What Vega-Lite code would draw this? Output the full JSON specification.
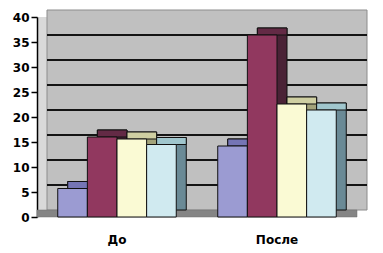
{
  "$schema": "https://vega.github.io/schema/vega-lite/v6.json",
  "width": 320,
  "height": 200,
  "autosize": {"type": "none"},
  "padding": {"left": 37, "top": 17, "right": 26, "bottom": 36},
  "background": "#ffffff",
  "config": {
    "view": {"fill": "#d9d9d9", "stroke": null},
    "axisY": {"grid": false, "domainColor": "#000000", "domainWidth": 1.5, "tickColor": "#000000", "tickWidth": 1.5, "tickSize": 6, "labelFont": "DejaVu Sans", "labelFontWeight": "bold", "labelFontSize": 12, "labelColor": "#000000", "labelPadding": 2, "title": null},
    "axisX": {"title": null, "domain": false, "ticks": false, "labelAngle": 0, "labelFont": "DejaVu Sans", "labelFontWeight": "bold", "labelFontSize": 12, "labelColor": "#000000", "labelPadding": 17}
  },
  "datasets": {
    "bars": [
      {"cat": "До", "series": "s1", "v": 5.7},
      {"cat": "До", "series": "s2", "v": 16},
      {"cat": "До", "series": "s3", "v": 15.6},
      {"cat": "До", "series": "s4", "v": 14.5},
      {"cat": "После", "series": "s1", "v": 14.2},
      {"cat": "После", "series": "s2", "v": 36.4},
      {"cat": "После", "series": "s3", "v": 22.6},
      {"cat": "После", "series": "s4", "v": 21.4}
    ],
    "wall": [{"lo": 0, "hi": 40}],
    "grid": [{"g": 5}, {"g": 10}, {"g": 15}, {"g": 20}, {"g": 25}, {"g": 30}, {"g": 35}]
  },
  "resolve": {"scale": {"color": "independent", "xOffset": "independent"}},
  "layer": [
    {
      "data": {"name": "wall"},
      "mark": {"type": "rect", "fill": "#c0c0c0", "stroke": "#8c8c8c", "strokeWidth": 1, "xOffset": 10, "x2Offset": 10, "yOffset": -7, "y2Offset": -7},
      "encoding": {
        "x": {"datum": "До", "type": "nominal", "bandPosition": 0},
        "x2": {"datum": "После", "bandPosition": 1},
        "y": {"field": "lo", "type": "quantitative", "scale": {"domain": [0, 40]}, "axis": {"values": [0, 5, 10, 15, 20, 25, 30, 35, 40]}},
        "y2": {"field": "hi"}
      }
    },
    {
      "data": {"name": "wall"},
      "mark": {"type": "rect", "fill": "#858585", "stroke": "#6e6e6e", "strokeWidth": 0.5, "x2Offset": 8, "y2Offset": -7},
      "encoding": {
        "y": {"field": "lo", "type": "quantitative", "axis": {"values": [0, 5, 10, 15, 20, 25, 30, 35, 40]}},
        "y2": {"field": "lo"}
      }
    },
    {
      "data": {"name": "grid"},
      "mark": {"type": "rule", "color": "#141414", "strokeWidth": 2, "xOffset": 10, "x2Offset": 10, "yOffset": -7},
      "encoding": {
        "x": {"datum": "До", "type": "nominal", "bandPosition": 0},
        "x2": {"datum": "После", "bandPosition": 1},
        "y": {"field": "g", "type": "quantitative", "axis": {"values": [0, 5, 10, 15, 20, 25, 30, 35, 40]}}
      }
    },
    {
      "data": {"name": "bars"},
      "mark": {"type": "bar", "stroke": "#111111", "strokeWidth": 1, "yOffset": -7, "y2Offset": -7},
      "encoding": {
        "x": {"field": "cat", "type": "nominal", "sort": null, "scale": {"domain": ["До", "После"], "paddingInner": 0, "paddingOuter": 0}},
        "xOffset": {"field": "series", "type": "nominal", "scale": {"paddingInner": 0, "paddingOuter": 0.7, "range": [10, 170]}},
        "y": {"field": "v", "type": "quantitative", "axis": {"values": [0, 5, 10, 15, 20, 25, 30, 35, 40]}},
        "y2": {"datum": 0},
        "color": {"field": "series", "type": "nominal", "legend": null, "scale": {"domain": ["s1", "s2", "s3", "s4"], "range": ["#5f5f9c", "#4a2236", "#a3a37a", "#6a8a96"]}}
      }
    },
    {
      "data": {"name": "bars"},
      "mark": {"type": "bar", "stroke": "#111111", "strokeWidth": 1, "yOffset": -7},
      "encoding": {
        "x": {"field": "cat", "type": "nominal", "sort": null},
        "xOffset": {"field": "series", "type": "nominal", "scale": {"paddingInner": 0, "paddingOuter": 0.7, "range": [10, 170]}},
        "y": {"field": "v", "type": "quantitative", "axis": {"values": [0, 5, 10, 15, 20, 25, 30, 35, 40]}},
        "y2": {"field": "v"},
        "color": {"field": "series", "type": "nominal", "legend": null, "scale": {"domain": ["s1", "s2", "s3", "s4"], "range": ["#7575b5", "#632a45", "#cfcfa2", "#a0c6cd"]}}
      }
    },
    {
      "data": {"name": "bars"},
      "mark": {"type": "bar", "stroke": "#111111", "strokeWidth": 1},
      "encoding": {
        "x": {"field": "cat", "type": "nominal", "sort": null},
        "xOffset": {"field": "series", "type": "nominal", "scale": {"paddingInner": 0, "paddingOuter": 0.7}},
        "y": {"field": "v", "type": "quantitative", "axis": {"values": [0, 5, 10, 15, 20, 25, 30, 35, 40]}},
        "y2": {"datum": 0},
        "color": {"field": "series", "type": "nominal", "legend": null, "scale": {"domain": ["s1", "s2", "s3", "s4"], "range": ["#9b9bd2", "#91385f", "#fafad4", "#d0eaf0"]}}
      }
    }
  ]
}
